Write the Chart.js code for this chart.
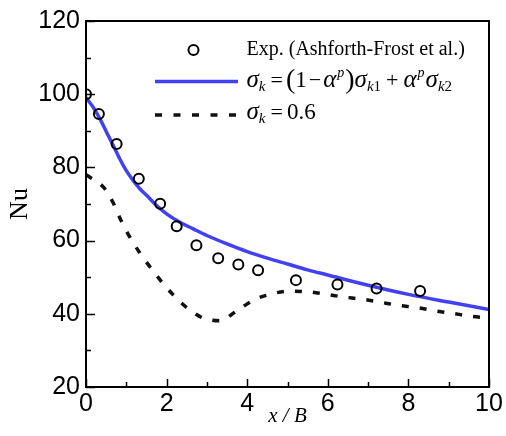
<!DOCTYPE html>
<html>
<head>
<meta charset="utf-8">
<script src="https://cdn.jsdelivr.net/npm/chart.js@4/dist/chart.umd.min.js"></script>
<style>
  html, body { margin: 0; padding: 0; background: #fff; }
  canvas { display: block; }
</style>
</head>
<body>
<canvas id="nu-chart" width="506" height="436"></canvas>
<script>
// measured data (x/B vs Nu)
const expX = [0, 0.32, 0.76, 1.31, 1.84, 2.25, 2.74, 3.28, 3.78, 4.27, 5.21, 6.24, 7.21, 8.29];
const expY = [100, 94.6, 86.4, 76.9, 70.1, 63.9, 58.7, 55.2, 53.5, 51.9, 49.2, 48.0, 46.9, 46.2];

// blended sigma_k model
const blendX = [0, 0.18, 0.35, 0.51, 0.68, 0.84, 1.0, 1.17, 1.34, 1.51, 1.75, 2.0, 2.33, 2.66, 3.0, 3.5, 4.0, 4.5, 5.0, 5.5, 6.0, 7.0, 8.0, 9.0, 10.0];
const blendY = [99.1, 96.4, 93.2, 89.6, 85.9, 82.3, 79.1, 76.4, 74.1, 72.3, 69.6, 67.3, 65.0, 63.2, 61.4, 59.1, 57.0, 55.2, 53.6, 52.0, 50.6, 47.8, 45.3, 43.2, 41.2];

// sigma_k = 0.6
const constX = [0, 0.07, 0.45, 0.68, 0.86, 1.08, 1.32, 1.59, 1.88, 2.17, 2.50, 2.87, 3.1, 3.32, 3.74, 4.15, 4.56, 5.06, 5.52, 5.97, 6.38, 6.84, 7.29, 7.75, 8.20, 8.66, 9.11, 9.57, 10];
const constY = [78, 77.5, 74.4, 70.2, 65.7, 61.1, 56.9, 52.8, 48.7, 45.1, 41.7, 39.0, 38.3, 38.1, 40.8, 43.7, 45.3, 46.2, 46.0, 45.3, 44.6, 44.0, 43.2, 42.3, 41.7, 40.8, 40.1, 39.3, 38.9];

const xLabels = [0, 2, 4, 6, 8, 10];
const yLabels = [20, 40, 60, 80, 100, 120];

const expLabel = 'Exp. (Ashforth-Frost et al.)';
const blueColor = '#4141f2';
const serif = '"Liberation Serif", "Times New Roman", serif';

const toPoints = (xs, ys) => xs.map((x, i) => ({ x, y: ys[i] }));

// frame + inward ticks
const frameTicks = {
  id: 'frameTicks',
  afterDatasetsDraw(chart) {
    const { ctx, chartArea: a, scales } = chart;
    ctx.save();
    ctx.strokeStyle = '#000';
    ctx.lineWidth = 1.5;
    ctx.beginPath();
    scales.x.ticks.forEach(t => {
      const px = Math.round(scales.x.getPixelForValue(t.value)) + 0.5;
      const len = xLabels.includes(t.value) ? 8 : 5;
      ctx.moveTo(px, a.bottom);
      ctx.lineTo(px, a.bottom - len);
    });
    scales.y.ticks.forEach(t => {
      const py = Math.round(scales.y.getPixelForValue(t.value)) + 0.5;
      const len = yLabels.includes(t.value) ? 9 : 5;
      ctx.moveTo(a.left, py);
      ctx.lineTo(a.left + len, py);
    });
    ctx.stroke();
    ctx.lineWidth = 2;
    ctx.strokeRect(a.left, a.top, a.right - a.left, a.bottom - a.top);
    ctx.restore();
  }
};

const drawRuns = (ctx, runs, x, y) => {
  runs.forEach(r => {
    x += r.dx || 0;
    ctx.font = `${r.it ? 'italic ' : ''}${r.size}px ${serif}`;
    ctx.fillText(r.t, x, y + (r.dy || 0));
    x += ctx.measureText(r.t).width;
  });
};

// legend with formulas
const mathLegend = {
  id: 'mathLegend',
  afterDraw(chart) {
    const ctx = chart.ctx;
    ctx.save();
    ctx.fillStyle = '#000';
    ctx.textBaseline = 'alphabetic';

    // marker
    ctx.beginPath();
    ctx.lineWidth = 2;
    ctx.strokeStyle = '#000';
    ctx.arc(193.5, 50, 5, 0, Math.PI * 2);
    ctx.stroke();
    ctx.font = `20px ${serif}`;
    ctx.fillText(expLabel, 246.5, 55);

    // blue line sample
    ctx.beginPath();
    ctx.strokeStyle = blueColor;
    ctx.lineWidth = 3.5;
    ctx.moveTo(155, 81.5);
    ctx.lineTo(238, 81.5);
    ctx.stroke();
    drawRuns(ctx, [
      { t: 'σ', it: true, size: 25 },
      { t: 'k', it: true, size: 15, dy: 4 },
      { t: '=', size: 22, dx: 5 },
      { t: '(', size: 28, dx: 3, dy: 1 },
      { t: '1', size: 23 },
      { t: '−', size: 22, dx: 2 },
      { t: 'α', it: true, size: 25, dx: 2 },
      { t: 'p', it: true, size: 14, dy: -10, dx: 1 },
      { t: ')', size: 28, dx: 1, dy: 1 },
      { t: 'σ', it: true, size: 25 },
      { t: 'k', it: true, size: 15, dy: 4 },
      { t: '1', size: 15, dy: 4 },
      { t: '+', size: 22, dx: 5 },
      { t: 'α', it: true, size: 25, dx: 5 },
      { t: 'p', it: true, size: 14, dy: -10, dx: 1 },
      { t: 'σ', it: true, size: 25, dx: 1 },
      { t: 'k', it: true, size: 15, dy: 4 },
      { t: '2', size: 15, dy: 4 }
    ], 246.5, 87);

    // dashed sample
    ctx.beginPath();
    ctx.strokeStyle = '#111';
    ctx.lineWidth = 3.5;
    ctx.setLineDash([7, 11.5]);
    ctx.moveTo(155, 115);
    ctx.lineTo(240, 115);
    ctx.stroke();
    ctx.setLineDash([]);
    drawRuns(ctx, [
      { t: 'σ', it: true, size: 25 },
      { t: 'k', it: true, size: 15, dy: 4 },
      { t: '=', size: 22, dx: 5 },
      { t: '0.6', size: 23, dx: 4 }
    ], 246.5, 119);
    ctx.restore();
  }
};

new Chart(document.getElementById('nu-chart'), {
  type: 'scatter',
  data: {
    datasets: [
      {
        label: expLabel,
        data: toPoints(expX, expY),
        pointStyle: 'circle',
        pointRadius: 5,
        pointBorderWidth: 2,
        pointBorderColor: '#000',
        pointBackgroundColor: 'rgba(0,0,0,0)',
        showLine: false
      },
      {
        label: 'blend',
        data: toPoints(blendX, blendY),
        showLine: true,
        borderColor: blueColor,
        borderWidth: 3.5,
        pointRadius: 0,
        cubicInterpolationMode: 'monotone'
      },
      {
        label: 'const',
        data: toPoints(constX, constY),
        showLine: true,
        borderColor: '#111',
        borderWidth: 3.5,
        borderDash: [7, 11],
        pointRadius: 0,
        cubicInterpolationMode: 'monotone'
      }
    ]
  },
  options: {
    responsive: false,
    animation: false,
    devicePixelRatio: 1,
    layout: { padding: { top: 20, right: 17, left: 0, bottom: 0 } },
    plugins: { legend: { display: false }, tooltip: { enabled: false } },
    scales: {
      x: {
        type: 'linear',
        min: 0,
        max: 10,
        grid: { display: false, drawTicks: false },
        border: { display: false },
        afterFit: scale => { scale.height = 49; },
        ticks: {
          stepSize: 1,
          autoSkip: false,
          maxRotation: 0,
          padding: 2,
          color: '#000',
          font: { family: '"Liberation Sans", Arial, sans-serif', size: 25 },
          callback: v => xLabels.includes(v) ? v : ''
        },
        title: {
          display: true,
          text: 'x / B',
          color: '#000',
          font: { family: serif, size: 21, style: 'italic', lineHeight: 1.2 },
          padding: { top: 0, bottom: 7 }
        }
      },
      y: {
        min: 20,
        max: 120,
        grid: { display: false, drawTicks: false },
        border: { display: false },
        afterFit: scale => { scale.width = 86; },
        ticks: {
          stepSize: 10,
          autoSkip: false,
          padding: 6,
          color: '#000',
          font: { family: '"Liberation Sans", Arial, sans-serif', size: 25 },
          callback: v => yLabels.includes(v) ? v : ''
        },
        title: {
          display: true,
          text: 'Nu',
          color: '#000',
          font: { family: serif, size: 26, lineHeight: 1.2 },
          padding: { top: 5, bottom: 0 }
        }
      }
    }
  },
  plugins: [frameTicks, mathLegend]
});
</script>
</body>
</html>
